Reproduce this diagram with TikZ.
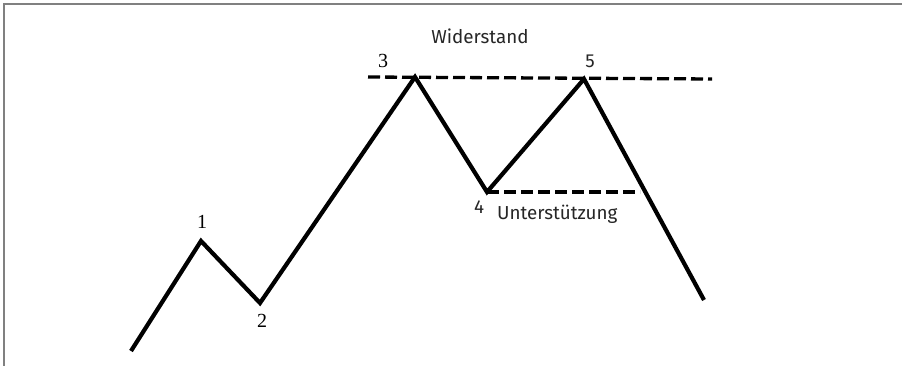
\documentclass[tikz,border=0pt]{standalone}
\usepackage{fontspec}
\newfontfamily\labfont{Fira Sans}
\newfontfamily\digfont{Liberation Serif}
\begin{document}
\begin{tikzpicture}[x=1pt,y=-1pt,
  frameline/.style={draw=black!50,line width=1.5pt},
  trend/.style={draw=black,line width=4.2pt,line join=miter,line cap=butt},
  level/.style={draw=black,line width=3.3pt,dash pattern=on 12pt off 5pt},
  sanslab/.style={inner sep=0pt,anchor=base,font=\labfont\fontsize{18.8}{20}\selectfont,text=black!85},
  seriflab/.style={inner sep=0pt,anchor=base,font=\digfont\fontsize{20}{22}\selectfont}]
\useasboundingbox (0,0) rectangle (902,366);
\fill[white] (0,0) rectangle (902,366);
\draw[frameline] (4,366) -- (4,4) -- (902,4);
% price points
\coordinate (s) at (131,351);
\coordinate (p1) at (201,241);
\coordinate (p2) at (260,303);
\coordinate (p3) at (415,77);
\coordinate (p4) at (487,192);
\coordinate (p5) at (584,79);
\coordinate (e) at (704,300);
\coordinate (rl) at (368,77);
\coordinate (rr) at (712,79);
\coordinate (sr) at (640,192);
\draw[level] (rl) -- (rr);
\draw[level] (p4) -- (sr);
\draw[trend] (s) -- (p1) -- (p2) -- (p3) -- (p4) -- (p5) -- (e);
% labels
\node[seriflab] (l1) at (202,229) {1};
\node[seriflab] (l2) at (262,327) {2};
\node[seriflab] (l3) at (383,68) {3};
\node[sanslab] (l4) at (479,214) {4};
\node[sanslab] (l5) at (590,68) {5};
\node[sanslab] (wid) at (480,44) {Widerstand};
\node[sanslab,anchor=base west] (unt) at (497,219) {Unterstützung};
\end{tikzpicture}
\end{document}
